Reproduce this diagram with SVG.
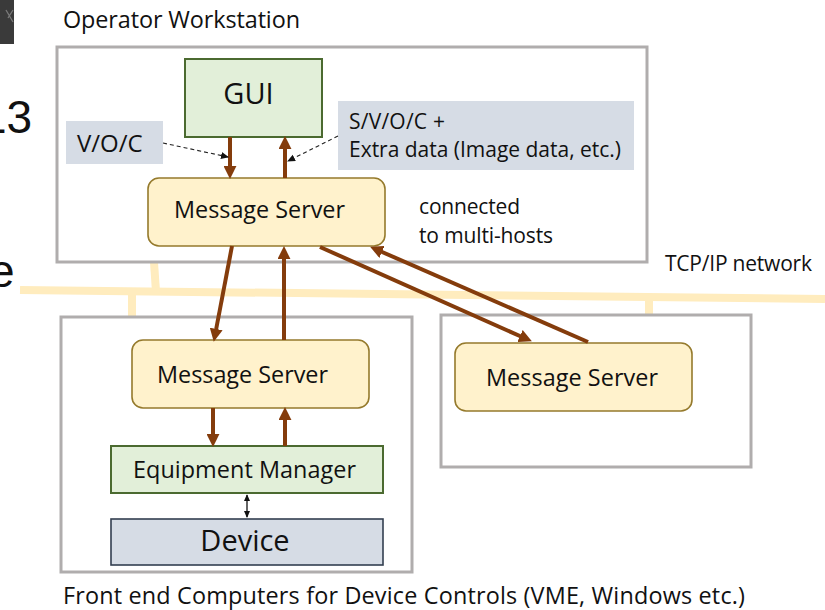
<svg xmlns="http://www.w3.org/2000/svg" width="825" height="610" viewBox="0 0 825 610">
<defs>
<style>
text{font-family:"Open Sans","Liberation Sans",sans-serif;fill:#111}
.host{fill:#fff;stroke:#b0adad;stroke-width:3}
.ms{fill:#fff2cc;stroke:#957a2c;stroke-width:1.6}
.green{fill:#e2efd9;stroke:#4b6a30;stroke-width:2}
.tag{fill:#d6dce5;stroke:none}
.dev{fill:#d6dce5;stroke:#333f50;stroke-width:1.6}
.net{stroke:#ffecbe;stroke-width:8;fill:none}
.flow{stroke:#843c0c;stroke-width:4;fill:none;marker-end:url(#bh)}
.dash{stroke:#222;stroke-width:1.1;stroke-dasharray:4 3;fill:none;marker-end:url(#sh)}
.t23{font-size:23.4px}
.t21{font-size:21px}
.t29{font-size:29px}
</style>
<marker id="bh" viewBox="0 0 12 12" markerWidth="13" markerHeight="13" refX="1" refY="6" orient="auto" markerUnits="userSpaceOnUse"><path d="M0,0 L12,6 L0,12 z" fill="#843c0c"/></marker>
<marker id="sh" viewBox="0 0 8 8" markerWidth="8" markerHeight="8" refX="7" refY="4" orient="auto" markerUnits="userSpaceOnUse"><path d="M0,0.5 L8,4 L0,7.5 z" fill="#111"/></marker>
<marker id="dh" viewBox="0 0 8 8" markerWidth="7" markerHeight="7" refX="7" refY="4" orient="auto-start-reverse" markerUnits="userSpaceOnUse"><path d="M0,0.5 L8,4 L0,7.5 z" fill="#111"/></marker>
</defs>

<g id="background-slide">
<rect x="0" y="0" width="14" height="44" fill="#3a3a3a"/>
<path d="M6,10 L13,22 M13,10 L8,18" stroke="#7a7a7a" stroke-width="1.3" fill="none"/>
<text x="-19" y="133" style="font-family:'Liberation Sans',sans-serif;font-size:46px">13</text>
<text x="-11" y="287" style="font-family:'Liberation Sans',sans-serif;font-size:46px">e</text>
</g>

<g id="network">
<path class="net" d="M20,290 L825,299"/>
<path class="net" d="M154,262 L156,292"/>
<path class="net" d="M132,292 L132,316"/>
<path class="net" d="M649,297 L649,316"/>
<text class="t21" x="665" y="271" textLength="147">TCP/IP network</text>
</g>

<g id="operator-workstation">
<rect class="host" x="57" y="47" width="590" height="215"/>
<text class="t23" x="63" y="28" textLength="237">Operator Workstation</text>
</g>

<g id="front-end">
<rect class="host" x="61" y="317" width="351" height="255"/>
<text class="t23" x="63" y="604" textLength="682">Front end Computers for Device Controls (VME, Windows etc.)</text>
</g>

<g id="other-host">
<rect class="host" x="441" y="315" width="310" height="152"/>
</g>

<g id="gui">
<rect class="green" x="185" y="59" width="137" height="78"/>
<text class="t29" x="248.5" y="104" text-anchor="middle">GUI</text>
</g>

<g id="voc-label">
<rect class="tag" x="66" y="121" width="97" height="43"/>
<text x="77" y="152" style="font-size:24px">V/O/C</text>
</g>

<g id="svoc-label">
<rect class="tag" x="338" y="101" width="296" height="69"/>
<text class="t21" x="349" y="129" textLength="96">S/V/O/C +</text>
<text class="t21" x="349" y="157" textLength="272">Extra data (Image data, etc.)</text>
</g>

<g id="ms-top">
<rect class="ms" x="148" y="178" width="237" height="68" rx="11"/>
<text class="t23" x="174" y="218" textLength="171">Message Server</text>
</g>

<g id="multi-hosts-note">
<text class="t21" x="419" y="214" textLength="101">connected</text>
<text class="t21" x="419" y="243" textLength="134">to multi-hosts</text>
</g>

<g id="ms-front">
<rect class="ms" x="132" y="340" width="237" height="68" rx="11"/>
<text class="t23" x="157" y="383" textLength="171">Message Server</text>
</g>

<g id="ms-right">
<rect class="ms" x="455" y="343" width="237" height="68" rx="11"/>
<text class="t23" x="486" y="386" textLength="172">Message Server</text>
</g>

<g id="equipment-manager">
<rect class="green" x="111" y="446" width="272" height="47"/>
<text class="t23" x="133" y="478" textLength="223">Equipment Manager</text>
</g>

<g id="device">
<rect class="dev" x="111" y="519" width="272" height="46"/>
<text class="t29" x="245" y="551" text-anchor="middle">Device</text>
</g>

<g id="connectors">
<path class="flow" d="M230,137 L230,167"/>
<path class="flow" d="M285,178 L285,148"/>
<path class="flow" d="M232,246 L216,330"/>
<path class="flow" d="M284,340 L284,258"/>
<path class="flow" d="M320,247 L521,336.5"/>
<path class="flow" d="M588,342 L381,251.5"/>
<path class="flow" d="M213,408 L213,435"/>
<path class="flow" d="M285,446 L285,419"/>
<path class="dash" d="M163,143 L228,157"/>
<path class="dash" d="M338,136 L288,161"/>
<path d="M247,495 L247,517" stroke="#111" stroke-width="1.3" fill="none" marker-start="url(#dh)" marker-end="url(#dh)"/>
</g>
</svg>
